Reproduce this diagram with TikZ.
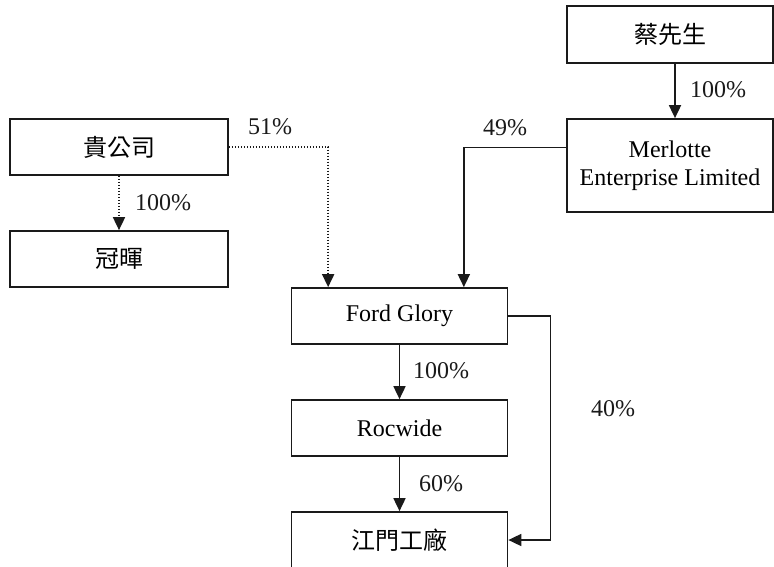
\documentclass[tikz,border=0pt]{standalone}
\usepackage{fontspec}
\setmainfont{Liberation Serif}
\newfontfamily\cjk{Noto Sans CJK TC}
\usepackage{tikz}
\usetikzlibrary{arrows.meta}
\definecolor{ink}{HTML}{1A1A1A}
\tikzset{
  box/.style={draw=ink, line width=0.85pt, minimum width=108pt, minimum height=28pt, inner sep=0pt, align=center, font=\fontsize{12}{14}\selectfont},
  own/.style={draw=ink, line width=0.85pt, -{Triangle[width=6pt,length=6.5pt]}},
  ownd/.style={own, dash pattern=on 0.6pt off 0.9pt},
  pct/.style={text=ink, inner sep=0pt, font=\fontsize{12}{14}\selectfont},
}
\begin{document}
\begin{tikzpicture}[x=0.5pt,y=-0.5pt]
  \useasboundingbox (0,0) rectangle (774,566);
  \clip (0,0) rectangle (774,566);

  \node[box,minimum width=103pt,minimum height=28.5pt] (tsai) at (670,34.5) {\cjk 蔡先生};
  \node[box,minimum width=103pt,minimum height=46.5pt] (merl) at (670,165.5) {Merlotte\\Enterprise Limited};
  \node[box,minimum width=109pt] (gfc) at (119,147) {\cjk 貴公司};
  \node[box,minimum width=109pt] (gh) at (119,259) {\cjk 冠暉};
  \node[box] (ford) at (399.5,316) {Ford Glory};
  \node[box] (roc) at (399.5,428) {Rocwide};
  \node[box] (jm) at (399.5,540) {\cjk 江門工廠};

  \draw[own] ([xshift=2.5pt]tsai.south) -- ([xshift=2.5pt]merl.north);
  \draw[ownd] (gfc.south) -- (gh.north);
  \draw[ownd] (gfc.east) -| ([xshift=18.75pt]ford.north west);
  \draw[own] ([yshift=9pt]merl.west) -| ([xshift=-22.25pt]ford.north east);
  \draw[own] (ford) -- (roc);
  \draw[own] (roc) -- (jm);
  \draw[own] (ford.east) -- ++(21pt,0) |- (jm.east); % direct 40%

  \node[pct] (p1) at (718,90) {100\%};
  \node[pct] (p2) at (163,203) {100\%};
  \node[pct] (p3) at (270,127) {51\%};
  \node[pct] (p4) at (505,128) {49\%};
  \node[pct] (p5) at (441,371) {100\%};
  \node[pct] (p6) at (441,484) {60\%};
  \node[pct] (p7) at (613,409) {40\%};
\end{tikzpicture}
\end{document}
